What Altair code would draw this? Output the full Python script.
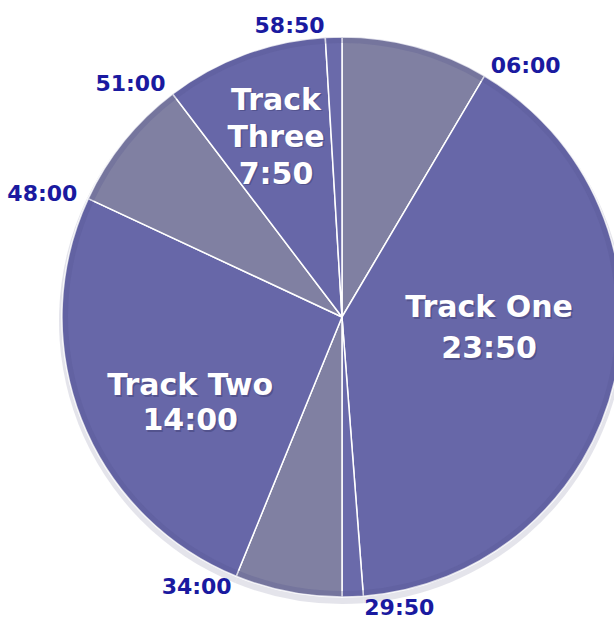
import math
import numpy as np
import pandas as pd
import altair as alt

# Slices as drawn on the 60-minute dial, clockwise from 12 o'clock
slice_names = ["gap A", "Track One", "tail One", "gap B", "Track Two", "gap C", "Track Three", "tail Three"]
slice_kind = ["gap", "track", "tail", "gap", "track", "gap", "track", "tail"]
slice_minutes = [5.1, 24.17, 0.73, 3.7, 15.47, 4.63, 5.63, 0.57]

# Time labels at slice boundaries (index of the slice whose end they mark)
boundary_labels = ["06:00", "29:50", "34:00", "48:00", "51:00", "58:50"]
boundary_after_slice = [0, 1, 3, 4, 5, 6]
boundary_side = ["right", "right", "left", "left", "left", "left"]

# Track labels
track_names = ["Track One", "Track Two", "Track Three"]
track_texts = ["Track One\n23:50", "Track Two\n14:00", "Track\nThree\n7:50"]

ends = np.cumsum(slice_minutes)
starts = ends - np.array(slice_minutes)
slices = pd.DataFrame({
    "name": slice_names,
    "kind": slice_kind,
    "start": starts,
    "end": ends,
    "mid": (starts + ends) / 2,
})
bounds = pd.DataFrame({
    "label": boundary_labels,
    "t": [ends[i] for i in boundary_after_slice],
    "side": boundary_side,
})
tracks = slices[slices["kind"] == "track"].copy()
tracks["text"] = [track_texts[track_names.index(n)] for n in tracks["name"]]

CX, CY, R = 342, 317, 280
theta_scale = alt.Scale(domain=[0, 60], range=[0, 2 * math.pi])
grey = "#8080A2"
purple = "#6767A8"
purple_tail = "#6A6AAA"
navy = "#1A1AA0"
FONT = "DejaVu Sans"

center = dict(x=alt.value(CX), y=alt.value(CY))

shadow = alt.Chart(slices).mark_arc(radius=R + 3, color="#d2d2dd", opacity=0.6).encode(
    theta=alt.Theta("start:Q", scale=theta_scale), theta2="end",
    x=alt.value(CX), y=alt.value(CY + 4),
)

pie = alt.Chart(slices).mark_arc(radius=R, stroke="white", strokeWidth=1.5).encode(
    theta=alt.Theta("start:Q", scale=theta_scale), theta2="end",
    color=alt.Color("kind:N", scale=alt.Scale(domain=["gap", "track", "tail"],
                                               range=[grey, purple, purple_tail]), legend=None),
    **center,
)

rim = alt.Chart(slices).mark_arc(radius=R, radius2=R - 6, color="#55558f", opacity=0.25).encode(
    theta=alt.Theta("start:Q", scale=theta_scale), theta2="end",
    **center,
)

lab_right = alt.Chart(bounds).transform_filter(alt.datum.side == "right").mark_text(
    radius=R + 12, align="left", baseline="middle", font=FONT, fontSize=22,
    fontWeight="bold", color=navy,
).encode(theta=alt.Theta("t:Q", scale=theta_scale), text="label:N", **center)

lab_left = alt.Chart(bounds).transform_filter(alt.datum.side == "left").mark_text(
    radius=R + 12, align="right", baseline="middle", font=FONT, fontSize=22,
    fontWeight="bold", color=navy,
).encode(theta=alt.Theta("t:Q", scale=theta_scale), text="label:N", **center)

track_layers = []
for name, rad, dy, lh in [("Track One", 151, -43, 41), ("Track Two", 163, 10, 35), ("Track Three", 190, -38, 37)]:
    for col, off, op in [("#3d3d70", 1.5, 0.45), ("white", 0, 1)]:
        track_layers.append(
            alt.Chart(tracks).transform_filter(alt.datum.name == name).mark_text(
                radius=rad, align="center", baseline="middle", font=FONT, fontSize=30,
                fontWeight="bold", color=col, opacity=op, lineBreak="\n", lineHeight=lh,
                dx=off, dy=dy + off,
            ).encode(theta=alt.Theta("mid:Q", scale=theta_scale), text="text:N", **center)
        )

chart = alt.layer(shadow, pie, rim, lab_right, lab_left, *track_layers).properties(
    width=614, height=622, padding=0, autosize="none", background="white"
).configure_view(strokeWidth=0)

chart.save("out.html", embed_options={"renderer": "svg", "actions": False})
